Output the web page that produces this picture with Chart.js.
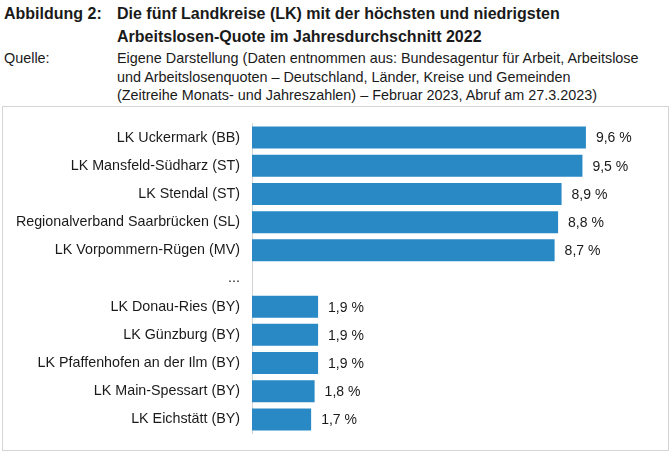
<!DOCTYPE html>
<html>
<head>
<meta charset="utf-8">
<script src="https://cdn.jsdelivr.net/npm/chart.js@4.4.1/dist/chart.umd.min.js"></script>
<style>
  html, body { margin:0; padding:0; background:#fff; }
  body { width:672px; height:453px; position:relative; overflow:hidden; font-family:"Liberation Sans", Arial, sans-serif; color:#1a1a1a; }
  .lbl { position:absolute; white-space:nowrap; }
  #t1, #t2 { font-weight:bold; font-size:16px; line-height:23px; top:2px; }
  #t1 { left:4px; }
  #t2 { left:117px; }
  #s1, #s2 { font-size:14.4px; line-height:18.5px; top:49px; }
  #s1 { left:4px; }
  #s2 { left:117px; }
  #box { position:absolute; left:2px; top:106px; width:665px; height:343px; border:1px solid #d4d4d4; }
  #box canvas { display:block; }
</style>
</head>
<body>
<div class="lbl" id="t1">Abbildung 2:</div>
<div class="lbl" id="t2">Die fünf Landkreise (LK) mit der höchsten und niedrigsten<br>Arbeitslosen-Quote im Jahresdurchschnitt 2022</div>
<div class="lbl" id="s1">Quelle:</div>
<div class="lbl" id="s2">Eigene Darstellung (Daten entnommen aus: Bundesagentur für Arbeit, Arbeitslose<br>und Arbeitslosenquoten – Deutschland, Länder, Kreise und Gemeinden<br>(Zeitreihe Monats- und Jahreszahlen) – Februar 2023, Abruf am 27.3.2023)</div>
<div id="box"><canvas id="c" width="665" height="343"></canvas></div>
<script>
const categories = [
  "LK Uckermark (BB)",
  "LK Mansfeld-Südharz (ST)",
  "LK Stendal (ST)",
  "Regionalverband Saarbrücken (SL)",
  "LK Vorpommern-Rügen (MV)",
  "...",
  "LK Donau-Ries (BY)",
  "LK Günzburg (BY)",
  "LK Pfaffenhofen an der Ilm (BY)",
  "LK Main-Spessart (BY)",
  "LK Eichstätt (BY)"
];
const quote = [9.6, 9.5, 8.9, 8.8, 8.7, null, 1.9, 1.9, 1.9, 1.8, 1.7];

const valueLabels = {
  id: 'valueLabels',
  afterDatasetsDraw(chart) {
    const ctx = chart.ctx;
    const meta = chart.getDatasetMeta(0);
    ctx.save();
    ctx.font = '14px "Liberation Sans", Arial, sans-serif';
    ctx.fillStyle = '#1a1a1a';
    ctx.textAlign = 'left';
    ctx.textBaseline = 'middle';
    meta.data.forEach((bar, i) => {
      const v = quote[i];
      if (v === null) return;
      ctx.fillText(v.toFixed(1).replace('.', ',') + ' %', bar.x + 10, bar.y + 1);
    });
    ctx.restore();
  }
};

new Chart(document.getElementById('c'), {
  type: 'bar',
  data: {
    labels: categories,
    datasets: [{
      data: quote,
      backgroundColor: '#2989c4',
      borderWidth: 0,
      categoryPercentage: 1,
      barPercentage: 0.78
    }]
  },
  options: {
    indexAxis: 'y',
    responsive: false,
    animation: false,
    devicePixelRatio: 1,
    layout: { padding: { top: 16.5, bottom: 16.5, left: 0, right: 16 } },
    plugins: { legend: { display: false }, tooltip: { enabled: false }, title: { display: false } },
    scales: {
      x: { display: false, min: 0, max: 11.5 },
      y: {
        grid: { display: false, drawTicks: false },
        border: { display: true, color: '#d4d4d4', width: 1 },
        ticks: {
          padding: 12,
          color: '#1a1a1a',
          font: { family: '"Liberation Sans", Arial, sans-serif', size: 14.3 }
        },
        afterFit(scale) {
          scale.width = 249;
          scale.paddingTop = 0;
          scale.paddingBottom = 0;
        }
      }
    }
  },
  plugins: [valueLabels]
});
</script>
</body>
</html>
